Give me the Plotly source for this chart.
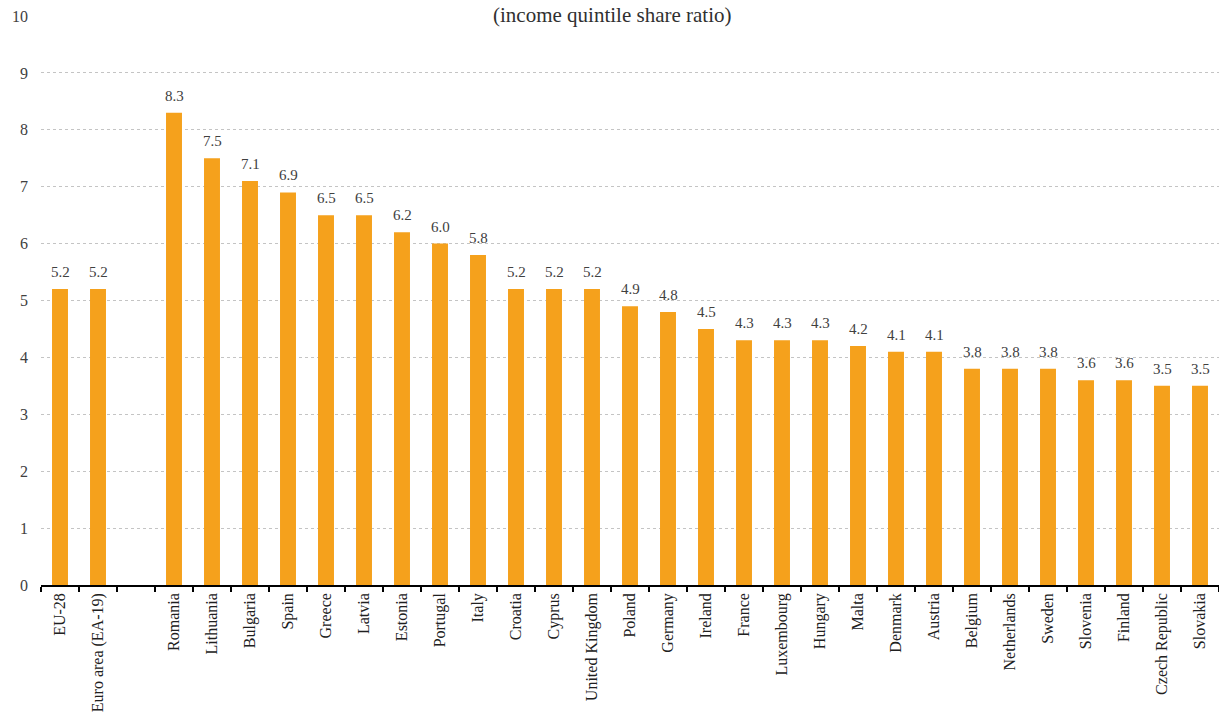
import plotly.graph_objects as go

# Income inequality by country (S80/S20 income quintile share ratio)
countries = [
    "EU-28", "Euro area (EA-19)", " ",
    "Romania", "Lithuania", "Bulgaria", "Spain", "Greece", "Latvia", "Estonia",
    "Portugal", "Italy", "Croatia", "Cyprus", "United Kingdom", "Poland",
    "Germany", "Ireland", "France", "Luxembourg", "Hungary", "Malta",
    "Denmark", "Austria", "Belgium", "Netherlands", "Sweden", "Slovenia",
    "Finland", "Czech Republic", "Slovakia",
]
ratios = [
    5.2, 5.2, None,
    8.3, 7.5, 7.1, 6.9, 6.5, 6.5, 6.2,
    6.0, 5.8, 5.2, 5.2, 5.2, 4.9,
    4.8, 4.5, 4.3, 4.3, 4.3, 4.2,
    4.1, 4.1, 3.8, 3.8, 3.8, 3.6,
    3.6, 3.5, 3.5,
]
y_ticks = list(range(0, 11))
subtitle = "(income quintile share ratio)"

FONT = "Liberation Serif"
TEXT_COLOR = "#404040"
BAR_COLOR = "#F5A11C"

fig = go.Figure(
    go.Bar(
        x=countries,
        y=ratios,
        marker=dict(color=BAR_COLOR, line=dict(width=0)),
        cliponaxis=False,
        hoverinfo="x+y",
    )
)

# value labels sitting a little above each bar
for name, val in zip(countries, ratios):
    if val is None:
        continue
    fig.add_annotation(
        x=name, y=val, text=f"{val:.1f}",
        xref="x", yref="y",
        xanchor="center", yanchor="bottom",
        yshift=7, showarrow=False,
        font=dict(family=FONT, size=15, color=TEXT_COLOR),
    )

fig.add_annotation(
    text=subtitle,
    xref="paper", yref="paper",
    x=0.485, y=1.026,
    xanchor="center", yanchor="top",
    showarrow=False,
    font=dict(family=FONT, size=21, color="#303030"),
)

fig.update_layout(
    width=1219,
    height=719,
    margin=dict(l=41, r=0, t=16, b=134),
    paper_bgcolor="white",
    plot_bgcolor="white",
    bargap=0.58,
    showlegend=False,
    font=dict(family=FONT, size=15, color=TEXT_COLOR),
)

fig.update_xaxes(
    type="category",
    tickangle=-90,
    tickfont=dict(family=FONT, size=16, color="#202020"),
    showgrid=False,
    showline=True,
    linecolor="#000000",
    linewidth=1.5,
    ticks="outside",
    tickson="boundaries",
    ticklen=5,
    tickcolor="#000000",
    tickwidth=1.5,
    automargin=False,
    range=[-0.5, len(countries) - 0.5],
)

fig.update_yaxes(
    range=[0, 10],
    tickvals=y_ticks,
    tickfont=dict(family=FONT, size=16, color=TEXT_COLOR),
    showgrid=True,
    gridcolor="#c4c4c4",
    griddash="dot",
    gridwidth=1,
    zeroline=False,
    showline=False,
    ticks="",
    ticklabelstandoff=12,
    automargin=False,
)

fig.write_html("out.html")
